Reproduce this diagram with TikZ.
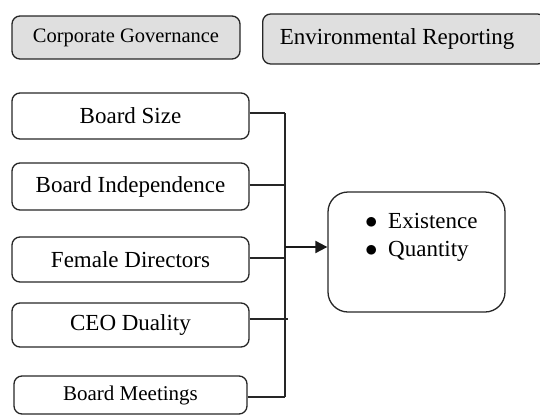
\documentclass[tikz,border=0pt]{standalone}
\usepackage{fontspec}
\setmainfont{Liberation Serif}
\usetikzlibrary{arrows.meta}
\begin{document}
\begin{tikzpicture}[x=1pt,y=-1pt,
  box/.style={draw=black!85,line width=1.3pt,rounded corners=8pt,inner sep=0pt,
    font=\fontsize{23}{27}\selectfont},
  hdr/.style={box,fill=gray!25},
  conn/.style={line width=1.3pt,draw=black!85},
  arr/.style={line width=2pt,draw=black!90,-{Triangle[length=12pt,width=12pt]}},
  item/.style={anchor=base west,inner sep=0pt,font=\fontsize{23}{27}\selectfont}]
\useasboundingbox (0,0) rectangle (540,415);
% header boxes
\node[hdr,minimum width=228pt,minimum height=43pt,font=\fontsize{20.5}{24}\selectfont] (cg) at (126,37.5) {Corporate Governance};
\node[hdr,minimum width=283pt,minimum height=50pt,anchor=west] (er) at (262,39) {\hspace{-14pt}Environmental Reporting};
% left boxes
\node[box,minimum width=237pt,minimum height=46pt] (bs) at (130.5,116) {Board Size};
\node[box,minimum width=237pt,minimum height=47pt] (bi) at (130.5,186.5) {Board Independence};
\node[box,minimum width=237pt,minimum height=45pt] (fd) at (130.5,259.5) {Female Directors};
\node[box,minimum width=237pt,minimum height=44pt] (ceo) at (130.5,325) {CEO Duality};
\node[box,minimum width=233pt,minimum height=38pt,font=\fontsize{21}{25}\selectfont] (bm) at (130.5,395) {Board Meetings};
% outcome box
\node[box,rounded corners=20pt,minimum width=177pt,minimum height=120pt] (out) at (416.5,252) {};
\node[item] (l1) at (365,228) {\makebox[23pt][l]{$\bullet$}Existence};
\node[item] (l2) at (365,256) {\makebox[23pt][l]{$\bullet$}Quantity};
% connectors
\coordinate (bus) at (285,0);
\path ([yshift=3pt]bs.east) coordinate (c1)
      ([yshift=1.5pt]bi.east) coordinate (c2)
      ([yshift=1.5pt]fd.east) coordinate (c3)
      ([yshift=6pt]ceo.east) coordinate (c4)
      ([yshift=-2pt]bm.east) coordinate (c5);
\draw[conn] (c1) -- (c1 -| bus);
\draw[conn] (c2) -- (c2 -| bus);
\draw[conn] (c3) -- (c3 -| bus);
\draw[conn] (c4) -- ([xshift=3pt]c4 -| bus);
\draw[conn] (c5) -- (c5 -| bus);
\draw[conn] (c1 -| bus) -- (c5 -| bus);
\coordinate (ja) at (285,247);
\draw[arr] (ja) -- (ja -| out.west);
\end{tikzpicture}
\end{document}
